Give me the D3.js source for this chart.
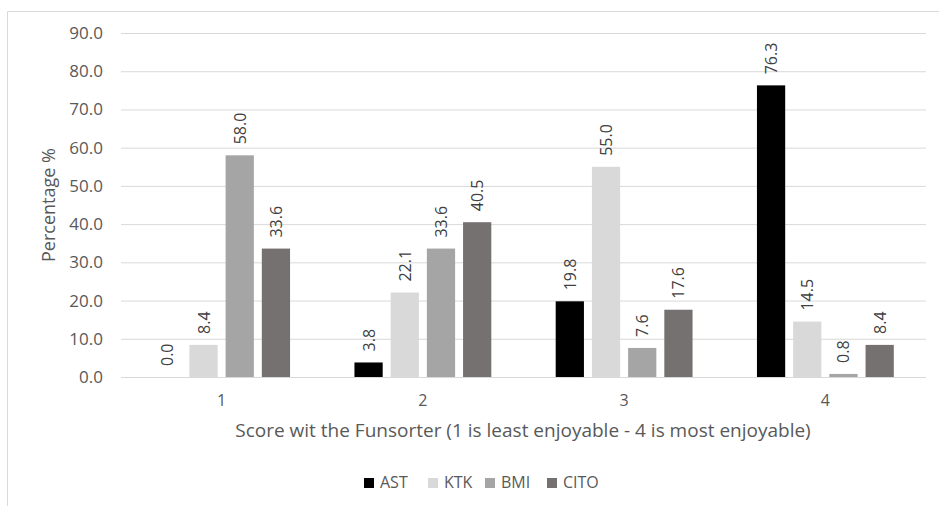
<!DOCTYPE html>
<html><head><meta charset="utf-8">
<script src="https://cdn.jsdelivr.net/npm/d3@7"></script>
<style>body{margin:0;background:#fff;} text{font-family:"Open Sans",sans-serif;}</style>
</head><body>
<svg id="c" width="939" height="506"></svg>
<script>
const categories = ["1","2","3","4"];
const seriesNames = ["AST","KTK","BMI","CITO"];
const AST  = [0.0, 3.8, 19.8, 76.3];
const KTK  = [8.4, 22.1, 55.0, 14.5];
const BMI  = [58.0, 33.6, 7.6, 0.8];
const CITO = [33.6, 40.5, 17.6, 8.4];
const yTicks = [0,10,20,30,40,50,60,70,80,90];
const colors = ["#000000","#d9d9d9","#a5a5a5","#767171"];
const seriesValues = [AST, KTK, BMI, CITO];

const svg = d3.select("#c");
// outer frame
svg.append("path").attr("d","M7.5,506 V11.5 H939").attr("fill","none").attr("stroke","#d9d9d9");

const x0 = d3.scaleBand().domain(categories).range([121,926]).paddingInner(0.32).paddingOuter(0.16);
const x1 = d3.scaleBand().domain(seriesNames).range([0,x0.bandwidth()]).paddingInner(0.22);
const y = d3.scaleLinear().domain([0,90]).range([377,33]);

// gridlines
svg.append("g").selectAll("line").data(yTicks).join("line")
  .attr("x1",121).attr("x2",926).attr("y1",d=>y(d)+0.5).attr("y2",d=>y(d)+0.5)
  .attr("stroke","#d9d9d9").attr("stroke-width",1);

// y axis labels
const ya = svg.append("g").attr("transform","translate(121,0)")
  .call(d3.axisLeft(y).tickValues(yTicks).tickFormat(d3.format(".1f")).tickSize(0).tickPadding(18));
ya.select(".domain").remove();
ya.selectAll("text").attr("font-size",17).attr("fill","#595959").style("font-family","Open Sans");

// x axis labels
const xa = svg.append("g").attr("transform","translate(0,377)")
  .call(d3.axisBottom(x0).tickSize(0));
xa.select(".domain").remove();
xa.selectAll("text").attr("y",29).attr("dy",0).attr("font-size",16).attr("fill","#595959").style("font-family","Open Sans");

// bars
const groups = svg.append("g").selectAll("g").data(categories).join("g")
  .attr("transform",d=>`translate(${x0(d)},0)`);
groups.each(function(cat,ci){
  const g = d3.select(this);
  seriesNames.forEach((s,si)=>{
    const v = seriesValues[si][ci];
    g.append("rect").attr("x",x1(s)).attr("width",x1.bandwidth())
      .attr("y",y(v)).attr("height",y(0)-y(v)).attr("fill",colors[si]);
    g.append("text")
      .attr("transform",`translate(${x1(s)+x1.bandwidth()/2+6},${y(v)-11}) rotate(-90)`)
      .attr("font-size",16).attr("fill","#404040").attr("text-anchor","start")
      .text(d3.format(".1f")(v));
  });
});

// axis titles
svg.append("text").attr("x",523).attr("y",437).attr("text-anchor","middle")
  .attr("font-size",19).attr("fill","#595959").text("Score wit the Funsorter (1 is least enjoyable - 4 is most enjoyable)");
svg.append("text").attr("transform","translate(55,205) rotate(-90)").attr("text-anchor","middle")
  .attr("font-size",18).attr("fill","#595959").text("Percentage %");

// legend
const legX = [364,428,485,547];
const leg = svg.append("g").selectAll("g").data(seriesNames).join("g")
  .attr("transform",(d,i)=>`translate(${legX[i]},478)`);
leg.append("rect").attr("width",10).attr("height",10).attr("fill",(d,i)=>colors[i]);
leg.append("text").attr("x",16).attr("y",10).attr("font-size",16).attr("fill","#595959").text(d=>d);
</script>
</body></html>
